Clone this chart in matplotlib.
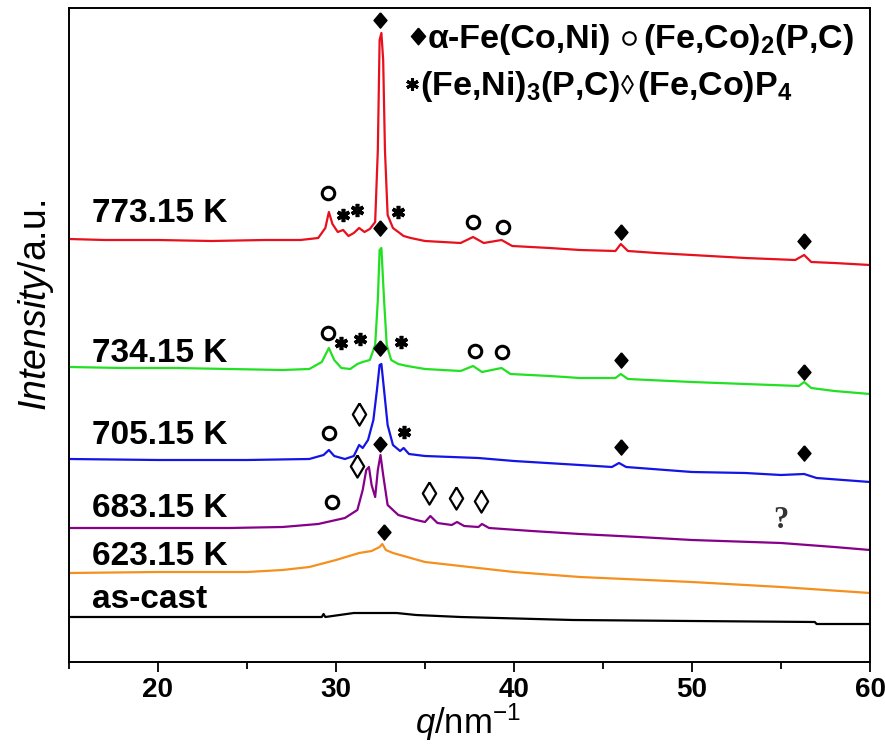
import matplotlib
matplotlib.use("Agg")
import matplotlib.pyplot as plt
from matplotlib.ticker import MultipleLocator

plt.rcParams['font.family'] = ['Liberation Sans', 'DejaVu Sans']
plt.rcParams['mathtext.fontset'] = 'custom'
plt.rcParams['mathtext.rm'] = 'Liberation Sans'
plt.rcParams['mathtext.it'] = 'Liberation Sans:italic'
plt.rcParams['mathtext.bf'] = 'Liberation Sans:bold'

# ---- data (q in nm^-1, intensity in arbitrary stacked units) ----
q_773 = [15, 17, 20, 23, 26, 28, 29.0, 29.4, 29.6, 29.8, 30.1, 30.4, 30.7, 31.0, 31.3, 31.6,
         31.9, 32.2, 32.35, 32.45, 32.55, 32.65, 32.75, 32.9, 33.2, 33.5, 33.8, 34.2, 35, 37,
         37.7, 38.3, 39.3, 39.9, 42, 43.7, 45.7, 46.0, 46.4, 48, 50, 53, 55.8, 56.3, 56.7, 58, 60]
i_773 = [423, 422, 422, 421, 422, 422, 424, 434, 450, 438, 430, 432, 426, 429, 434, 430,
         433, 440, 512, 622, 629, 602, 512, 447, 434, 430, 426, 424, 421, 419,
         425, 419, 422, 416, 414, 412, 411, 418, 411, 409, 407, 404, 402, 407, 400, 399, 397]

q_734 = [15, 18, 21, 24, 27, 28.5, 29.2, 29.6, 29.9, 30.3, 30.8, 31.2, 31.5, 31.9, 32.2, 32.35,
         32.45, 32.55, 32.7, 32.85, 33.1, 33.5, 34, 35, 37, 37.7, 38.2, 39.3, 39.8, 42, 43.7,
         45.7, 46.0, 46.4, 50, 53, 56, 56.3, 56.7, 58, 60]
i_734 = [295, 294, 294, 293, 292, 293, 300, 314, 302, 294, 293, 298, 300, 302, 317, 362,
         412, 414, 362, 317, 302, 298, 296, 293, 291, 296, 290, 294, 288, 286, 284,
         284, 288, 283, 280, 278, 276, 280, 274, 271, 268]

q_705 = [15, 20, 25, 28.5, 29.3, 29.6, 29.9, 30.5, 31.0, 31.3, 31.5, 31.8, 32.1, 32.3, 32.45,
         32.55, 32.7, 32.9, 33.2, 33.6, 33.8, 34.1, 35, 38, 40, 43.7, 45.5, 45.9, 46.3, 50, 53,
         55, 56.3, 57, 60]
i_705 = [203, 202, 202, 203, 207, 212, 206, 203, 206, 217, 214, 222, 242, 272, 297,
         298, 272, 237, 217, 211, 214, 208, 206, 204, 201, 197, 195, 199, 195, 190, 189,
         187, 188, 184, 180]

q_683 = [15, 18, 21, 24, 27, 29, 30.5, 31.2, 31.5, 31.7, 31.85, 32.0, 32.2, 32.35, 32.5, 32.65,
         32.9, 33.5, 34.5, 35.0, 35.3, 35.7, 36.5, 36.8, 37.2, 38.0, 38.2, 38.6, 41, 43.7, 47,
         50, 55, 58, 60]
i_683 = [134, 134, 134, 134, 135, 138, 144, 152, 172, 192, 195, 177, 165, 192, 207, 187,
         157, 147, 142, 140, 146, 139, 137, 140, 136, 135, 138, 134, 131, 128, 125,
         122, 119, 115, 112]

q_623 = [15, 20, 25, 27, 28.5, 30, 31.3, 32.0, 32.45, 32.6, 32.8, 33.2, 35, 37.5, 40, 43.7, 50, 55, 60]
i_623 = [89, 90, 90, 92, 95, 102, 109, 111, 115, 118, 112, 109, 100, 95, 90, 85, 80, 75, 69]

q_cast = [15, 25, 29.2, 29.3, 29.4, 31.0, 33.4, 34.5, 37, 43.3, 50, 56.9, 57.0, 60]
i_cast = [45, 45, 45, 48, 45, 49, 49, 47, 45, 42, 41, 40, 38, 38]

curves = [
    ("as-cast", q_cast, i_cast, "black", 54),
    ("623.15 K", q_623, i_623, "#f5901e", 97),
    ("683.15 K", q_683, i_683, "#86008a", 145),
    ("705.15 K", q_705, i_705, "#1414e6", 218),
    ("734.15 K", q_734, i_734, "#22e022", 300),
    ("773.15 K", q_773, i_773, "#e8101c", 440),
]

# phase markers
alpha_q = [32.5, 32.5, 46.0, 56.3, 32.5, 46.0, 56.3, 32.5, 46.0, 56.3, 32.7]
alpha_i = [642, 434, 430, 421, 314, 302, 290, 218, 215, 209, 130]
fe2p_q = [29.55, 37.7, 39.4, 29.55, 37.8, 39.3, 29.6, 29.8]
fe2p_i = [469, 440, 435, 329, 311, 310, 229, 160]
fe3p_q = [30.4, 31.2, 33.5, 30.3, 31.35, 33.65, 33.8]
fe3p_i = [447, 452, 450, 319, 323, 320, 230]
fep4_q = [31.3, 31.2, 35.2, 36.75, 38.15]
fep4_i = [248, 196, 169, 164, 161]

fig = plt.figure(figsize=(8.85, 7.49), dpi=100)
ax = fig.add_axes([69 / 885, 87 / 749, 801 / 885, 654 / 749])

for name, q, inten, col, ylab in curves:
    ax.plot(q, inten, color=col, lw=1.6, zorder=2)
    ax.text(16.3, ylab, name, fontsize=24, fontweight='bold', ha='left', va='baseline')

fat_diamond = [(0, 1), (0.85, 0), (0, -1), (-0.85, 0), (0, 1)]
thin_diamond = [(0, 1), (0.6, 0), (0, -1), (-0.6, 0), (0, 1)]

ax.plot(alpha_q, alpha_i, ls='none', marker=fat_diamond, ms=11, color='black', zorder=4)
ax.plot(fe2p_q, fe2p_i, ls='none', marker='o', ms=9, mfc='none', mec='black', mew=2.2, zorder=4)
ax.plot(fe3p_q, fe3p_i, ls='none', marker=(6, 2, 0), ms=9.5, mec='black', mew=2.6, zorder=4)
ax.plot(fep4_q, fep4_i, ls='none', marker=thin_diamond, ms=16, mfc='none', mec='black',
        mew=1.6, zorder=4)
ax.text(55.0, 142, '?', fontsize=22, family='Liberation Serif', fontweight='bold',
        color='#333333', ha='center', va='center')

# legend drawn as text + markers
leg_fs = 24.5
ax.plot([34.6], [626], ls='none', marker=fat_diamond, ms=12, color='black')
ax.text(35.15, 614, 'α-Fe(Co,Ni)', fontsize=leg_fs, fontweight='bold', va='baseline')
ax.plot([46.45], [624], ls='none', marker='o', ms=9, mfc='none', mec='black', mew=1.5)
ax.text(47.25, 614, r'(Fe,Co)$_\mathbf{2}$(P,C)', fontsize=leg_fs, fontweight='bold',
        va='baseline')
ax.plot([34.25], [578], ls='none', marker=(6, 2, 0), ms=9, mec='black', mew=2.2)
ax.text(34.7, 567, r'(Fe,Ni)$_\mathbf{3}$(P,C)', fontsize=leg_fs, fontweight='bold',
        va='baseline')
ax.plot([46.35], [578], ls='none', marker=thin_diamond, ms=13, mfc='none', mec='black', mew=1.3)
ax.text(46.9, 567, r'(Fe,Co)P$_\mathbf{4}$', fontsize=leg_fs, fontweight='bold', va='baseline')

ax.set_xlim(15, 60)
ax.set_ylim(0, 654)
ax.set_yticks([])
ax.xaxis.set_major_locator(MultipleLocator(10))
ax.xaxis.set_minor_locator(MultipleLocator(5))
ax.tick_params(axis='x', which='major', direction='out', length=7, width=1.3,
               labelsize=20, pad=4)
ax.tick_params(axis='x', which='minor', direction='out', length=5, width=1.3)
for lab in ax.get_xticklabels():
    lab.set_fontweight('bold')
for sp in ax.spines.values():
    sp.set_linewidth(1.4)

fig.text(468 / 885, 1 - 722 / 749, r'$\mathit{q}$/nm$^{\mathregular{-1}}$', fontsize=25,
         ha='center', va='center')
fig.text(36 / 885, 1 - 305 / 749, r'$\mathit{Intensity}$/a.u.', fontsize=27,
         rotation=90, ha='center', va='center')

fig.savefig('out.png', dpi=100)
